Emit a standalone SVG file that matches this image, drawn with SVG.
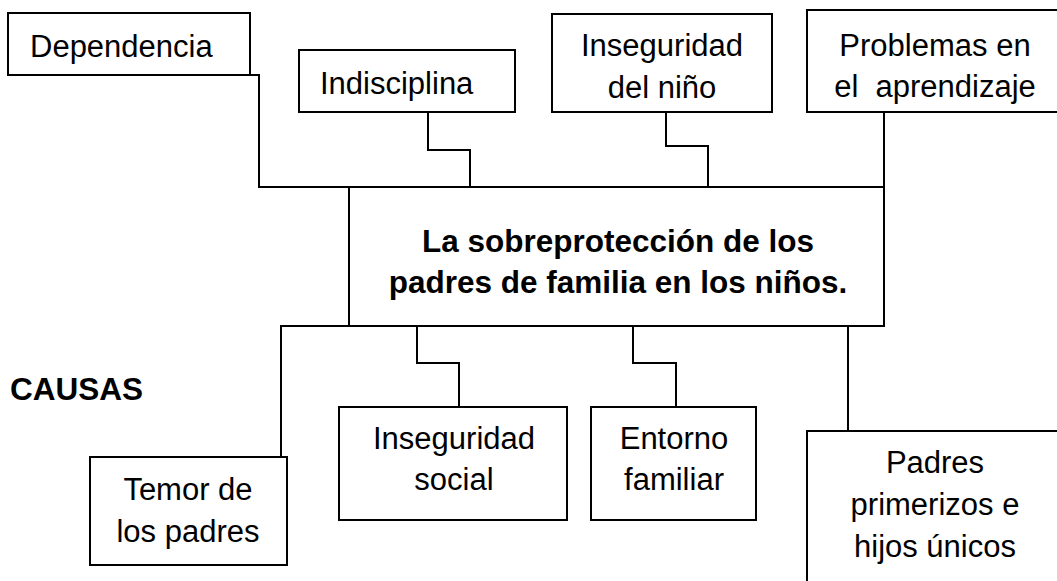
<svg xmlns="http://www.w3.org/2000/svg" width="1057" height="581" viewBox="0 0 1057 581">
<style>
.box{fill:#fff;stroke:#000;stroke-width:2}
.ln{fill:none;stroke:#000;stroke-width:2}
text{font-family:"Liberation Sans",Arial,sans-serif;font-size:31px;fill:#000}
.c{text-anchor:middle}
.b{font-weight:bold;font-size:31.5px}
</style>
<rect width="1057" height="581" fill="#fff"/>
<g id="connectors">
<polyline class="ln" points="250,75 259,75 259,187 884,187"/>
<polyline class="ln" points="428,112 428,150 470,150 470,187"/>
<polyline class="ln" points="666,112 666,146 708,146 708,187"/>
<polyline class="ln" points="884,112 884,187"/>
<polyline class="ln" points="281,457 281,326 884,326"/>
<polyline class="ln" points="417,326 417,363 459,363 459,407"/>
<polyline class="ln" points="633,326 633,363 676,363 676,407"/>
<polyline class="ln" points="848,326 848,431"/>
</g>
<g id="n-dependencia">
<rect class="box" x="8" y="13" width="242" height="62"/>
<text x="30" y="57">Dependencia</text>
</g>
<g id="n-indisciplina">
<rect class="box" x="299" y="50" width="216" height="62"/>
<text x="320" y="94">Indisciplina</text>
</g>
<g id="n-inseguridad-nino">
<rect class="box" x="552" y="14" width="220" height="98"/>
<text class="c" x="662" y="56">Inseguridad</text>
<text class="c" x="662" y="98">del niño</text>
</g>
<g id="n-problemas">
<rect class="box" x="807" y="10" width="257" height="102"/>
<text class="c" x="935" y="56" xml:space="preserve">Problemas en</text>
<text class="c" x="935" y="97" xml:space="preserve">el  aprendizaje</text>
</g>
<g id="n-central">
<rect class="box" x="349" y="187" width="535" height="139"/>
<text class="c b" x="618" y="252">La sobreprotección de los</text>
<text class="c b" x="618" y="293">padres de familia en los niños.</text>
</g>
<g id="n-causas">
<text class="b" x="10" y="400">CAUSAS</text>
</g>
<g id="n-temor">
<rect class="box" x="90" y="457" width="197" height="108"/>
<text class="c" x="188" y="500">Temor de</text>
<text class="c" x="188" y="542">los padres</text>
</g>
<g id="n-inseguridad-social">
<rect class="box" x="339" y="407" width="228" height="113"/>
<text class="c" x="454" y="449">Inseguridad</text>
<text class="c" x="454" y="490">social</text>
</g>
<g id="n-entorno">
<rect class="box" x="591" y="407" width="165" height="113"/>
<text class="c" x="674" y="449">Entorno</text>
<text class="c" x="674" y="490">familiar</text>
</g>
<g id="n-padres">
<rect class="box" x="807" y="431" width="257" height="160"/>
<text class="c" x="935" y="473">Padres</text>
<text class="c" x="935" y="515">primerizos e</text>
<text class="c" x="935" y="557">hijos únicos</text>
</g>
</svg>
